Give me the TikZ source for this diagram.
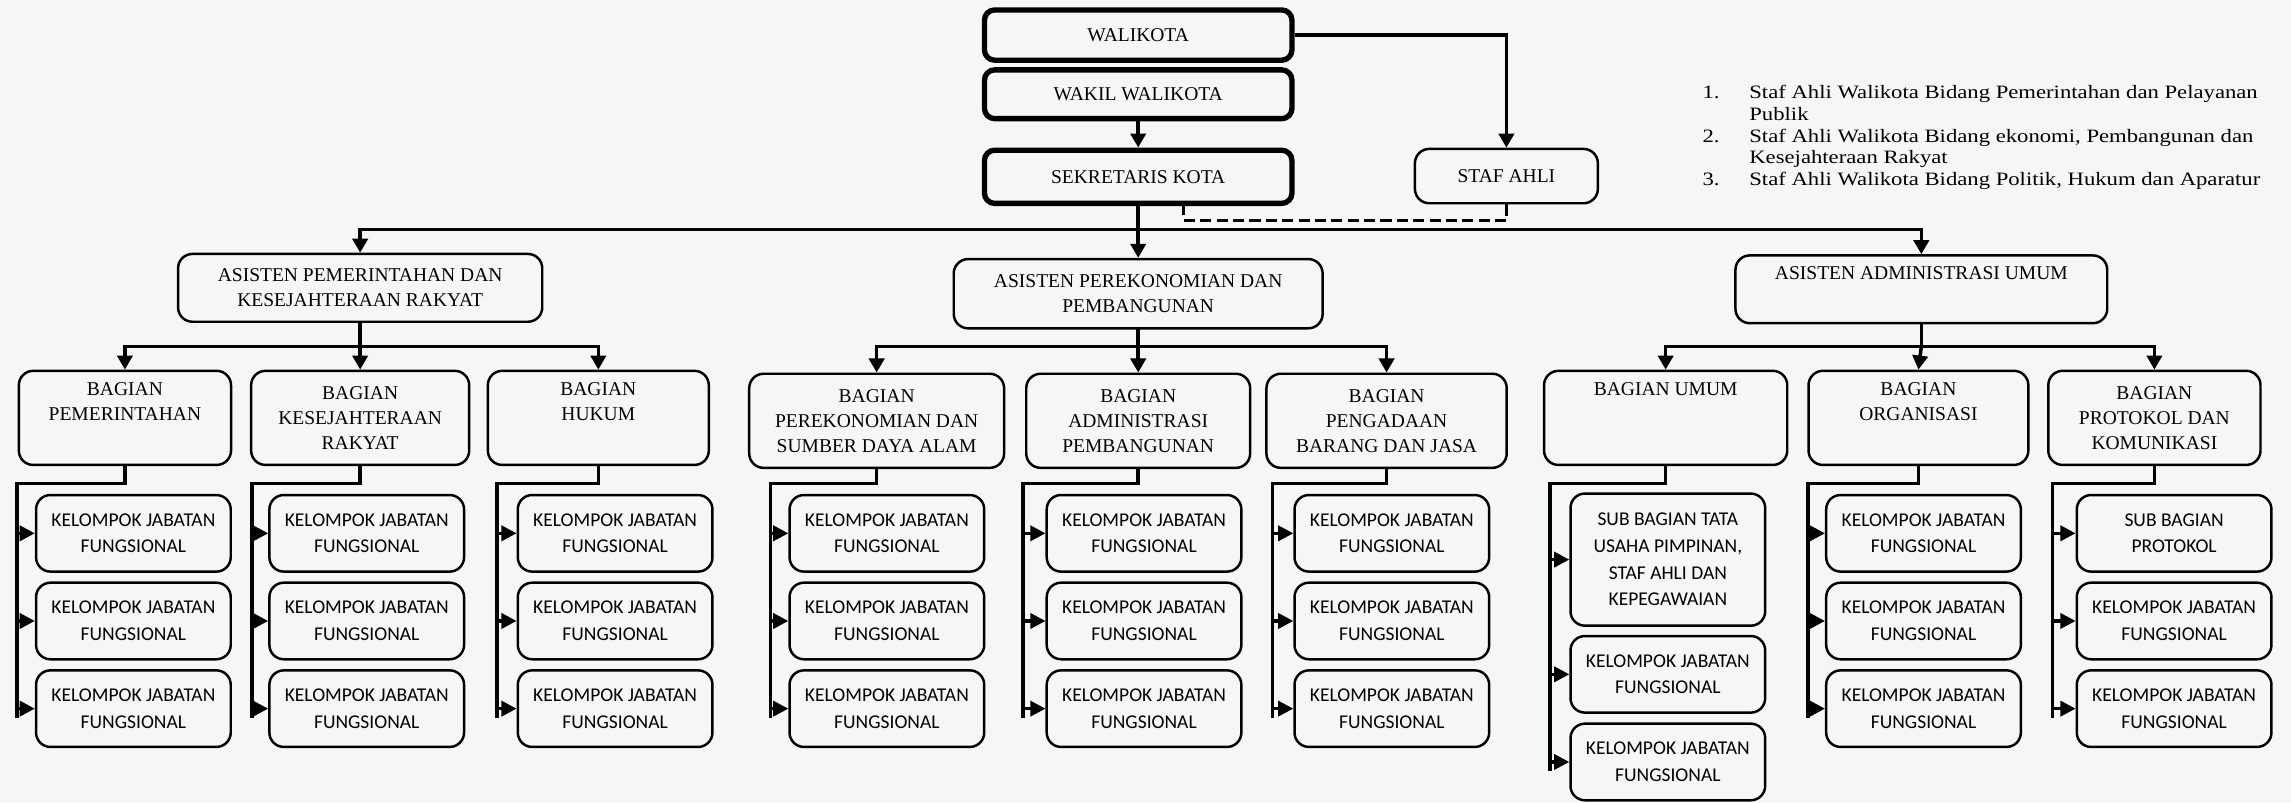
\documentclass[tikz,border=0pt]{standalone}
\usepackage{fontspec}
\setmainfont{Liberation Serif}
\newfontfamily\kjffont{Carlito}
\newfontfamily\legendfont{Liberation Serif}[FakeStretch=1.2]
\usetikzlibrary{arrows.meta}
\definecolor{paper}{RGB}{244,246,248}
\newcommand{\orgtext}{\fontsize{9.5}{12.1}\selectfont}
\newcommand{\kjftext}{\kjffont\fontsize{9.5}{13}\selectfont}

\begin{document}
\begin{tikzpicture}[x=0.025cm,y=-0.025cm,
	conn/.style={line width=1.7pt,line cap=rect},
	arr/.style={line width=1.7pt,-{Triangle[length=0.24cm,width=0.26cm]}},
	tip/.style={line width=1.6pt,-{Triangle[length=0.26cm,width=0.26cm]}},
	putus/.style={line width=1.6pt,dash pattern=on 0.19cm off 0.09cm},
	pimpinan/.style={draw,line width=2.6pt,rounded corners=5pt,minimum width=5.26cm,align=center,font=\orgtext,inner sep=1pt},
	unit/.style={draw,line width=1.2pt,rounded corners=7pt,align=center,font=\orgtext,inner sep=1pt},
	asisten/.style={unit,minimum height=1.16cm},
	bagian/.style={unit,minimum height=1.61cm},
	kjf/.style={draw,line width=1.2pt,rounded corners=7pt,align=center,font=\kjftext,minimum width=3.33cm,minimum height=1.31cm,inner sep=1pt}]
	\useasboundingbox (0,0) rectangle (1568,549);
	\fill[paper] (0,0) rectangle (1568,549);
	\node[pimpinan,minimum height=0.86cm] (walikota) at (779,24) {WALIKOTA};
	\node[pimpinan,minimum height=0.835cm] (wakil) at (779,64.5) {WAKIL WALIKOTA};
	\node[pimpinan,minimum height=0.91cm] (sekda) at (779,121) {SEKRETARIS KOTA};
	\node[unit,minimum width=3.13cm,minimum height=0.93cm] (stafahli) at (1031,120.5) {STAF AHLI};
	\node[anchor=base west,inner sep=0pt,font=\legendfont\fontsize{9.2}{10.6}\selectfont] (daftar) at (1165,67.5) {\begin{tabular}[t]{@{}p{0.8cm}@{}l@{}}
		1. & Staf Ahli Walikota Bidang Pemerintahan dan Pelayanan\\
		 & Publik\\
		2. & Staf Ahli Walikota Bidang ekonomi, Pembangunan dan\\
		 & Kesejahteraan Rakyat\\
		3. & Staf Ahli Walikota Bidang Politik, Hukum dan Aparatur
	\end{tabular}};
	\draw[arr] (wakil.south) -- (sekda.north);
	\draw[arr] (walikota.east) -| (stafahli.north);
	\draw[putus] (stafahli.south) -- ++(0,11) -| ([xshift=0.78cm]sekda.south);

	\node[asisten,minimum width=6.23cm] (aspem) at (246.5,197) {ASISTEN PEMERINTAHAN DAN\\KESEJAHTERAAN RAKYAT};
	\node[asisten,minimum width=6.31cm,minimum height=1.185cm] (asek) at (779,201) {ASISTEN PEREKONOMIAN DAN\\PEMBANGUNAN};
	\node[asisten,minimum width=6.36cm] (asadm) at (1315,198) {ASISTEN ADMINISTRASI UMUM\\\strut};
	\coordinate (trunk) at (779,157);
	\draw[conn] (sekda.south) -- (trunk);
	\draw[conn] (aspem.north |- trunk) -- (asadm.north |- trunk);
	\draw[arr] (aspem.north |- trunk) -- (aspem.north);
	\draw[arr] (trunk) -- (asek.north);
	\draw[arr] (asadm.north |- trunk) -- (asadm.north);

	\node[bagian,minimum width=3.63cm] (bpem) at (85.5,286) {BAGIAN\\PEMERINTAHAN\\\strut};
	\node[bagian,minimum width=3.73cm] (bkesra) at (246.5,286) {BAGIAN\\KESEJAHTERAAN\\RAKYAT};
	\node[bagian,minimum width=3.78cm] (bhukum) at (409.5,286) {BAGIAN\\HUKUM\\\strut};
	\node[bagian,minimum width=4.36cm] (bperek) at (600,288) {BAGIAN\\PEREKONOMIAN DAN\\SUMBER DAYA ALAM};
	\node[bagian,minimum width=3.83cm] (badm) at (779,288) {BAGIAN\\ADMINISTRASI\\PEMBANGUNAN};
	\node[bagian,minimum width=4.11cm] (bpbj) at (949,288) {BAGIAN\\PENGADAAN\\BARANG DAN JASA};
	\node[bagian,minimum width=4.16cm] (bumum) at (1140,286) {BAGIAN UMUM\\\strut\\\strut};
	\node[bagian,minimum width=3.76cm] (borg) at (1313,286) {BAGIAN\\ORGANISASI\\\strut};
	\node[bagian,minimum width=3.63cm] (bprot) at (1474.5,286) {BAGIAN\\PROTOKOL DAN\\KOMUNIKASI};
	\coordinate (gpem) at (246.5,237);
	\coordinate (gek) at (779,237);
	\coordinate (gadm) at (1315,237);
	\draw[conn] (aspem.south) -- (gpem);
	\draw[conn] (bpem.north |- gpem) -- (bhukum.north |- gpem);
	\draw[arr] (bpem.north |- gpem) -- (bpem.north);
	\draw[arr] (gpem) -- (bkesra.north);
	\draw[arr] (bhukum.north |- gpem) -- (bhukum.north);
	\draw[conn] (asek.south) -- (gek);
	\draw[conn] (bperek.north |- gek) -- (bpbj.north |- gek);
	\draw[arr] (bperek.north |- gek) -- (bperek.north);
	\draw[arr] (gek) -- (badm.north);
	\draw[arr] (bpbj.north |- gek) -- (bpbj.north);
	\draw[conn] (asadm.south) -- (gadm);
	\draw[conn] (bumum.north |- gadm) -- (bprot.north |- gadm);
	\draw[arr] (bumum.north |- gadm) -- (bumum.north);
	\draw[arr] (gadm) -- (borg.north);
	\draw[arr] (bprot.north |- gadm) -- (bprot.north);

	\node[kjf] (pem1) at (91.3,365) {KELOMPOK JABATAN\\FUNGSIONAL};
	\node[kjf] (pem2) at (91.3,425) {KELOMPOK JABATAN\\FUNGSIONAL};
	\node[kjf] (pem3) at (91.3,485) {KELOMPOK JABATAN\\FUNGSIONAL};
	\node[kjf] (kesra1) at (251,365) {KELOMPOK JABATAN\\FUNGSIONAL};
	\node[kjf] (kesra2) at (251,425) {KELOMPOK JABATAN\\FUNGSIONAL};
	\node[kjf] (kesra3) at (251,485) {KELOMPOK JABATAN\\FUNGSIONAL};
	\node[kjf] (hukum1) at (421,365) {KELOMPOK JABATAN\\FUNGSIONAL};
	\node[kjf] (hukum2) at (421,425) {KELOMPOK JABATAN\\FUNGSIONAL};
	\node[kjf] (hukum3) at (421,485) {KELOMPOK JABATAN\\FUNGSIONAL};
	\node[kjf] (perek1) at (607,365) {KELOMPOK JABATAN\\FUNGSIONAL};
	\node[kjf] (perek2) at (607,425) {KELOMPOK JABATAN\\FUNGSIONAL};
	\node[kjf] (perek3) at (607,485) {KELOMPOK JABATAN\\FUNGSIONAL};
	\node[kjf] (adm1) at (783,365) {KELOMPOK JABATAN\\FUNGSIONAL};
	\node[kjf] (adm2) at (783,425) {KELOMPOK JABATAN\\FUNGSIONAL};
	\node[kjf] (adm3) at (783,485) {KELOMPOK JABATAN\\FUNGSIONAL};
	\node[kjf] (pbj1) at (952.6,365) {KELOMPOK JABATAN\\FUNGSIONAL};
	\node[kjf] (pbj2) at (952.6,425) {KELOMPOK JABATAN\\FUNGSIONAL};
	\node[kjf] (pbj3) at (952.6,485) {KELOMPOK JABATAN\\FUNGSIONAL};
	\node[kjf,minimum height=2.26cm] (umum1) at (1141.5,383) {SUB BAGIAN TATA\\USAHA PIMPINAN,\\STAF AHLI DAN\\KEPEGAWAIAN};
	\node[kjf] (umum2) at (1141.5,461.5) {KELOMPOK JABATAN\\FUNGSIONAL};
	\node[kjf] (umum3) at (1141.5,521.5) {KELOMPOK JABATAN\\FUNGSIONAL};
	\node[kjf] (org1) at (1316.5,365) {KELOMPOK JABATAN\\FUNGSIONAL};
	\node[kjf] (org2) at (1316.5,425) {KELOMPOK JABATAN\\FUNGSIONAL};
	\node[kjf] (org3) at (1316.5,485) {KELOMPOK JABATAN\\FUNGSIONAL};
	\node[kjf] (prot1) at (1488,365) {SUB BAGIAN\\PROTOKOL};
	\node[kjf] (prot2) at (1488,425) {KELOMPOK JABATAN\\FUNGSIONAL};
	\node[kjf] (prot3) at (1488,485) {KELOMPOK JABATAN\\FUNGSIONAL};

	\coordinate (vpem) at (11.6,331);
	\coordinate (vkesra) at (172.6,331);
	\coordinate (vhukum) at (340,331);
	\coordinate (vperek) at (527.4,331);
	\coordinate (vadm) at (700,331);
	\coordinate (vpbj) at (871,331);
	\coordinate (vumum) at (1061,331);
	\coordinate (vorg) at (1237.5,331);
	\coordinate (vprot) at (1404.6,331);
	\draw[conn] (bpem.south) |- (vpem) -- (vpem |- pem3.west) -- ++(0,5);
	\draw[tip] (vpem |- pem1.west) -- (pem1.west);
	\draw[tip] (vpem |- pem2.west) -- (pem2.west);
	\draw[tip] (vpem |- pem3.west) -- (pem3.west);
	\draw[conn] (bkesra.south) |- (vkesra) -- (vkesra |- kesra3.west) -- ++(0,5);
	\draw[tip] (vkesra |- kesra1.west) -- (kesra1.west);
	\draw[tip] (vkesra |- kesra2.west) -- (kesra2.west);
	\draw[tip] (vkesra |- kesra3.west) -- (kesra3.west);
	\draw[conn] (bhukum.south) |- (vhukum) -- (vhukum |- hukum3.west) -- ++(0,5);
	\draw[tip] (vhukum |- hukum1.west) -- (hukum1.west);
	\draw[tip] (vhukum |- hukum2.west) -- (hukum2.west);
	\draw[tip] (vhukum |- hukum3.west) -- (hukum3.west);
	\draw[conn] (bperek.south) |- (vperek) -- (vperek |- perek3.west) -- ++(0,5);
	\draw[tip] (vperek |- perek1.west) -- (perek1.west);
	\draw[tip] (vperek |- perek2.west) -- (perek2.west);
	\draw[tip] (vperek |- perek3.west) -- (perek3.west);
	\draw[conn] (badm.south) |- (vadm) -- (vadm |- adm3.west) -- ++(0,5);
	\draw[tip] (vadm |- adm1.west) -- (adm1.west);
	\draw[tip] (vadm |- adm2.west) -- (adm2.west);
	\draw[tip] (vadm |- adm3.west) -- (adm3.west);
	\draw[conn] (bpbj.south) |- (vpbj) -- (vpbj |- pbj3.west) -- ++(0,5);
	\draw[tip] (vpbj |- pbj1.west) -- (pbj1.west);
	\draw[tip] (vpbj |- pbj2.west) -- (pbj2.west);
	\draw[tip] (vpbj |- pbj3.west) -- (pbj3.west);
	\draw[conn] (bumum.south) |- (vumum) -- (vumum |- umum3.west) -- ++(0,5);
	\draw[tip] (vumum |- umum1.west) -- (umum1.west);
	\draw[tip] (vumum |- umum2.west) -- (umum2.west);
	\draw[tip] (vumum |- umum3.west) -- (umum3.west);
	\draw[conn] (borg.south) |- (vorg) -- (vorg |- org3.west) -- ++(0,5);
	\draw[tip] (vorg |- org1.west) -- (org1.west);
	\draw[tip] (vorg |- org2.west) -- (org2.west);
	\draw[tip] (vorg |- org3.west) -- (org3.west);
	\draw[conn] (bprot.south) |- (vprot) -- (vprot |- prot3.west) -- ++(0,5);
	\draw[tip] (vprot |- prot1.west) -- (prot1.west);
	\draw[tip] (vprot |- prot2.west) -- (prot2.west);
	\draw[tip] (vprot |- prot3.west) -- (prot3.west);
\end{tikzpicture}
\end{document}
